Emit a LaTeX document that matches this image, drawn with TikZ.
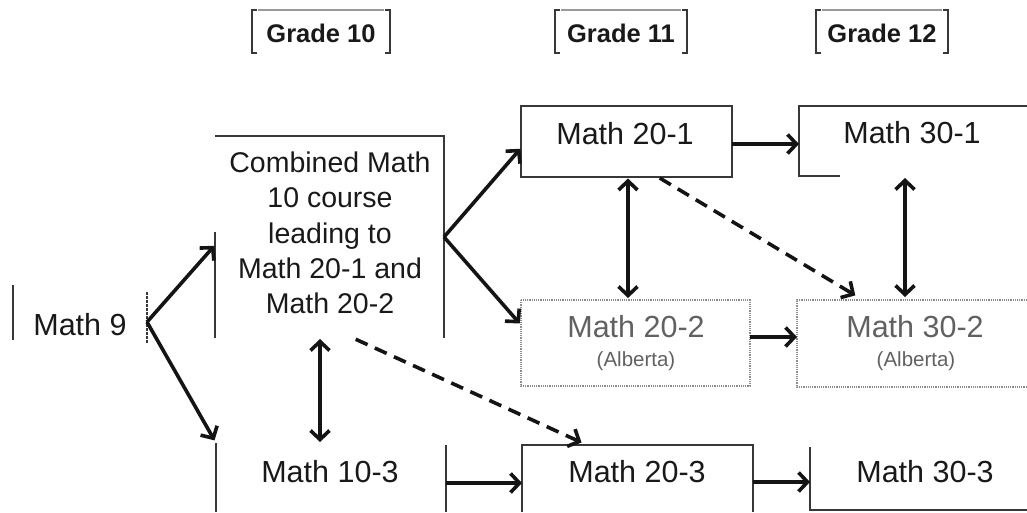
\documentclass[tikz,border=0pt]{standalone}
\usepackage{fontspec}
\setmainfont{Liberation Sans}
\usetikzlibrary{arrows.meta,calc}
\begin{document}
\begin{tikzpicture}[x=1pt,y=-1pt,
  box/.style={inner sep=0pt, outer sep=0pt, draw=none},
  lbl/.style={inner sep=0pt, text=black!90, font=\fontsize{30.5}{34}\selectfont},
  glbl/.style={inner sep=0pt, text=black!62, font=\fontsize{30.5}{34}\selectfont},
  sublbl/.style={inner sep=0pt, text=black!62, font=\fontsize{20.5}{24}\selectfont},
  grlbl/.style={inner sep=0pt, text=black!90, font=\fontsize{25.5}{28}\selectfont\bfseries},
  border/.style={draw=black!78, line width=1.4pt},
  faint/.style={draw=black!40, line width=1.8pt},
  dotb/.style={draw=black!45, line width=1.2pt, dash pattern=on 1.2pt off 1pt},
  arr/.style={draw=black!92, line width=3.6pt, -{Straight Barb[length=9pt,width=19pt]}},
  darr/.style={draw=black!92, line width=3.6pt, {Straight Barb[length=9pt,width=19pt]}-{Straight Barb[length=9pt,width=19pt]}},
  dsh/.style={arr, dash pattern=on 13pt off 8pt}
]
\useasboundingbox (0,0) rectangle (1027,512);

% ---------- box nodes (geometry only) ----------
\node[box, minimum width=138pt, minimum height=43pt] (g10) at (321,31.5) {};
\node[box, minimum width=132pt, minimum height=43pt] (g11) at (621,31.5) {};
\node[box, minimum width=132pt, minimum height=43pt] (g12) at (882,31.5) {};
\node[box, minimum width=134pt, minimum height=60pt] (m9) at (80,322) {};
\node[box, minimum width=229pt, minimum height=202pt] (comb) at (329.5,237) {};
\node[box, minimum width=230pt, minimum height=69pt] (m103) at (331,477.5) {};
\node[box, minimum width=211pt, minimum height=71pt] (m201) at (626.5,141.5) {};
\node[box, minimum width=229pt, minimum height=86pt] (m202) at (635.5,343) {};
\node[box, minimum width=231pt, minimum height=67pt] (m203) at (637.5,478.5) {};
\node[box, minimum width=228pt, minimum height=70pt] (m301) at (913,141) {};
\node[box, minimum width=230pt, minimum height=87pt] (m302) at (912,343.5) {};
\node[box, minimum width=217pt, minimum height=63pt] (m303) at (918.5,478.5) {};

% ---------- texts ----------
\node[grlbl] (tg10) at (321,33) {Grade 10};
\node[grlbl] (tg11) at (621,33) {Grade 11};
\node[grlbl] (tg12) at (882,33) {Grade 12};
\node[lbl] (t9) at (80,325) {Math 9};
\node[lbl, align=center, font=\fontsize{28.5}{35.3}\selectfont] (tcomb) at (330,233)
  {Combined Math\\10 course\\leading to\\Math 20-1 and\\Math 20-2};
\node[lbl] (t103) at (330,472) {Math 10-3};
\node[lbl] (t201) at (625,134) {Math 20-1};
\node[lbl] (t301) at (912,133) {Math 30-1};
\node[glbl] (t202) at (636,327) {Math 20-2};
\node[sublbl] (a202) at (636,361) {(Alberta)};
\node[glbl] (t302) at (915,327) {Math 30-2};
\node[sublbl] (a302) at (916,361) {(Alberta)};
\node[lbl] (t203) at (637,472) {Math 20-3};
\node[lbl] (t303) at (925,472) {Math 30-3};

% ---------- borders (as they appear) ----------
\foreach \g in {g10,g11,g12}{
  \draw[border] ([xshift=5pt]\g.north west) -- (\g.north west) -- (\g.south west) -- ([xshift=5pt]\g.south west);
  \draw[border] ([xshift=-5pt]\g.north east) -- (\g.north east) -- (\g.south east) -- ([xshift=-5pt]\g.south east);
  \draw[faint] ([xshift=6pt]\g.north west) -- ([xshift=-6pt]\g.north east);
}
% Math 9
\draw[border] ([yshift=7pt]m9.north west) -- ([yshift=12pt]m9.south west);
\draw[border, dash pattern=on 3pt off 1pt] (m9.north east) -- ([yshift=9pt]m9.south east);
% Combined
\draw[border] ($(comb.north west)!0.475!(comb.south west)$) -- (comb.south west);
\draw[border] (comb.north west) -- (comb.north east) -- (comb.south east);
% Math 10-3
\draw[border] (m103.north west) -- (m103.south west);
\draw[border] ([yshift=-2pt]m103.north east) -- (m103.south east);
% Math 20-1
\draw[border] (m201.north west) rectangle (m201.south east);
% Math 30-1
\draw[border] ([xshift=41pt]m301.south west) -- (m301.south west) -- (m301.north west) -- (m301.north east);
% Math 20-2 / 30-2 dotted
\draw[dotb] (m202.north west) rectangle (m202.south east);
\draw[dotb] (m302.north east) -- (m302.north west) -- (m302.south west) -- (m302.south east);
% Math 20-3
\draw[border] (m203.south west) -- (m203.north west) -- (m203.north east) -- (m203.south east);
% Math 30-3
\draw[border] (m303.north west) -- (m303.south west) -- (m303.south east);

% ---------- connectors ----------
\draw[arr, shorten >=1pt] (m9.east) -- ([yshift=-8pt]comb.west);
\draw[arr, shorten >=3pt] (m9.east) -- (m103.north west);
\draw[arr, shorten >=1pt] (comb.east) -- ([yshift=-6.5pt]m201.west);
\draw[arr, shorten >=2pt] (comb.east) -- ([yshift=18pt]m202.west);
\draw[darr, shorten <=1pt, shorten >=1pt] ([xshift=-9.5pt]comb.south) -- ([xshift=-11pt]m103.north);
\draw[dsh, shorten <=3pt, shorten >=6pt] ([xshift=23.5pt]comb.south) -- ([xshift=-50.5pt]m203.north);
\draw[darr, shorten <=1.5pt, shorten >=2pt] ([xshift=1.5pt]m201.south) -- ([xshift=-7.5pt]m202.north);
\draw[dsh, shorten <=2pt, shorten >=9pt] ([xshift=31.5pt]m201.south) -- ([xshift=-49pt]m302.north);
\draw[darr, shorten <=2pt, shorten >=3pt] ([xshift=-8pt]m301.south) -- ([xshift=-7pt]m302.north);
\draw[arr] ([yshift=-2.5pt]m201.east) -- ([yshift=-3pt]m301.west);
\draw[arr] ([yshift=6pt]m202.east) -- ([yshift=6.5pt]m302.west);
\draw[arr] ([yshift=-5.5pt]m103.east) -- ([yshift=-4.5pt]m203.west);
\draw[arr] ([yshift=-3.5pt]m203.east) -- ([yshift=-3.5pt]m303.west);
\end{tikzpicture}
\end{document}
